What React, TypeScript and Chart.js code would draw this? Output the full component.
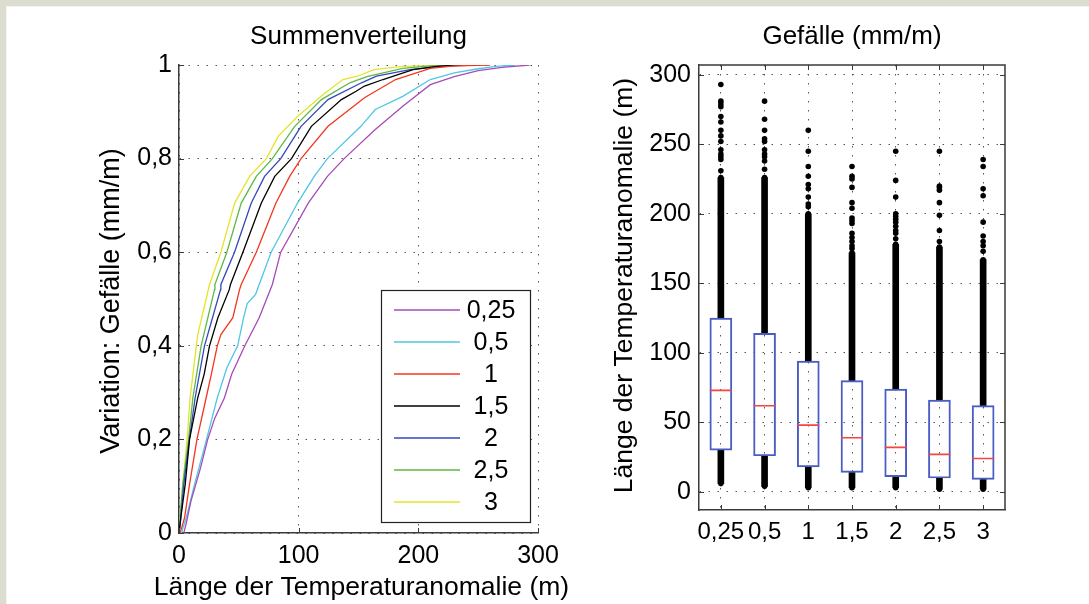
import React, { useEffect, useRef } from 'react';
import { Chart, registerables } from 'chart.js';

Chart.register(...registerables);

const FONT = '"Liberation Sans", Arial, Helvetica, sans-serif';

// Gradient classes (mm/m)
const classLabels = ['0,25', '0,5', '1', '1,5', '2', '2,5', '3'];
const classColors = ['#a64bb8', '#4ec7e4', '#f3361f', '#000000', '#3448bb', '#5cb944', '#e4e42a'];

// Cumulative distributions: [length of anomaly (m), cumulative share]
const cdf025: [number, number][] = [
  [4, 0], [6, 0.02], [10, 0.068], [18, 0.139], [24, 0.2], [30, 0.246], [38, 0.289], [44, 0.339],
  [55, 0.4], [67, 0.46], [78, 0.531], [85, 0.6], [108, 0.705], [124, 0.762], [138, 0.8],
  [164, 0.862], [187, 0.912], [210, 0.958], [230, 0.975], [250, 0.988], [270, 0.995], [293, 1],
];
const cdf05: [number, number][] = [
  [2, 0], [6, 0.032], [13, 0.104], [23, 0.2], [32, 0.289], [40, 0.353], [49, 0.4], [54, 0.46],
  [57, 0.49], [64, 0.51], [67, 0.531], [77, 0.6], [99, 0.705], [113, 0.762], [124, 0.8],
  [152, 0.869], [164, 0.905], [187, 0.933], [210, 0.969], [230, 0.983], [250, 0.992], [265, 0.997], [281, 1],
];
const cdf1: [number, number][] = [
  [1, 0], [4.6, 0.032], [8.8, 0.104], [15, 0.2], [22.7, 0.289], [27, 0.339], [32, 0.4], [35, 0.424],
  [45, 0.46], [50.6, 0.52], [52, 0.531], [64.6, 0.6], [81, 0.705], [92.5, 0.762], [102, 0.8],
  [124.5, 0.869], [155, 0.93], [181, 0.969], [210, 0.993], [230, 0.998], [260, 1],
];
const cdf15: [number, number][] = [
  [0, 0], [1.5, 0.032], [5.2, 0.104], [8.8, 0.2], [15.7, 0.289], [21, 0.339], [25.5, 0.4], [32.5, 0.46],
  [42, 0.52], [43, 0.531], [53.4, 0.6], [68.8, 0.705], [80, 0.762], [94, 0.8], [110.6, 0.869],
  [135.7, 0.926], [148, 0.944], [155, 0.955], [170.5, 0.969], [195.6, 0.99], [215, 0.997], [234, 1],
];
const cdf2: [number, number][] = [
  [0, 0], [1, 0.02], [4, 0.104], [8.7, 0.2], [13.5, 0.289], [21.3, 0.4], [28, 0.46], [34.7, 0.52],
  [35, 0.531], [46.4, 0.6], [60.4, 0.705], [71.5, 0.762], [85, 0.8], [102, 0.869], [124.5, 0.926],
  [152.5, 0.962], [165, 0.976], [193, 0.99], [220, 0.997], [245, 1],
];
const cdf25: [number, number][] = [
  [0, 0], [0.5, 0.02], [3.2, 0.104], [8, 0.2], [11.6, 0.289], [18.5, 0.4], [25, 0.47], [29.7, 0.52],
  [30, 0.531], [40, 0.6], [52, 0.705], [64.6, 0.762], [78, 0.8], [96.7, 0.869], [119, 0.926],
  [142.7, 0.962], [157, 0.975], [187, 0.993], [210, 0.998], [245, 1],
];
const cdf3: [number, number][] = [
  [0, 0], [0.5, 0.02], [3.2, 0.104], [6.8, 0.2], [9.3, 0.289], [14.5, 0.4], [15.7, 0.424], [25.5, 0.531],
  [35, 0.6], [46.5, 0.705], [59, 0.762], [73, 0.8], [83, 0.848], [99, 0.89], [122, 0.94],
  [137, 0.969], [149, 0.976], [163, 0.99], [187, 0.997], [239, 1],
];
const cdfSeries = [cdf025, cdf05, cdf1, cdf15, cdf2, cdf25, cdf3];

const cdfXTicks = [0, 100, 200, 300];
const cdfYTicks = [0, 0.2, 0.4, 0.6, 0.8, 1];

// Box plot statistics of anomaly length (m) per gradient class
const boxQ1 = [30, 26, 18, 14, 11, 10, 9];
const boxMedian = [73, 62, 48, 39, 32, 27, 24];
const boxQ3 = [125, 114, 94, 80, 74, 66, 62];
// Outliers: lowest value, densely packed upper run, and the scattered high values
const outlierLow = [6, 4, 3, 3, 3, 2, 2];
const outlierDenseTop = [226, 226, 200, 172, 178, 176, 167];
const outliers025 = [231, 239, 241, 243, 246, 252, 256, 260, 266, 270, 277, 279, 281, 293];
const outliers05 = [232, 238, 241, 243, 246, 252, 254, 260, 268, 281];
const outliers1 = [205, 207, 212, 218, 221, 227, 234, 245, 260];
const outliers15 = [175, 177, 180, 183, 186, 193, 195, 197, 204, 208, 219, 225, 227, 234];
const outliers2 = [182, 186, 188, 191, 194, 196, 198, 200, 212, 224, 245];
const outliers25 = [180, 188, 199, 208, 217, 219, 220, 245];
const outliers3 = [173, 177, 180, 184, 194, 213, 218, 234, 239];
const outlierSets = [outliers025, outliers05, outliers1, outliers15, outliers2, outliers25, outliers3];

const boxYTicks = [0, 50, 100, 150, 200, 250, 300];

const GRID = '#555555';
const AXIS = '#3a3a3a';
const DOTS = [1.5, 7.5];
const TICK_SIZE = 25;

const decimalComma = (v: number) => String(Math.round(v * 100) / 100).replace('.', ',');

// Titles and axis titles of a panel
const panelText = {
  id: 'panelText',
  afterDraw(chart: any, _args: any, opts: any) {
    const { ctx, chartArea: a } = chart;
    ctx.save();
    ctx.fillStyle = '#000';
    ctx.textBaseline = 'alphabetic';
    ctx.textAlign = 'center';
    const cx = (a.left + a.right) / 2;
    ctx.font = `${opts.titleSize}px ${FONT}`;
    ctx.fillText(opts.title, cx + (opts.titleShift || 0), opts.titleBaseline);
    if (opts.xTitle) {
      ctx.font = `${opts.axisSize}px ${FONT}`;
      ctx.fillText(opts.xTitle, cx + (opts.xTitleShift || 0), opts.xTitleBaseline);
    }
    if (opts.yTitle) {
      ctx.font = `${opts.yAxisSize || opts.axisSize}px ${FONT}`;
      ctx.translate(a.left + opts.yTitleOffset, (a.top + a.bottom) / 2 + (opts.yTitleShift || 0));
      ctx.rotate(-Math.PI / 2);
      ctx.fillText(opts.yTitle, 0, 0);
    }
    ctx.restore();
  },
};

// Short tick marks pointing into the plot area
const innerTicks = {
  id: 'innerTicks',
  afterDatasetsDraw(chart: any, _args: any, opts: any) {
    const { ctx, chartArea: a, scales } = chart;
    const len = 5;
    ctx.save();
    ctx.strokeStyle = AXIS;
    ctx.lineWidth = 1;
    ctx.beginPath();
    for (const t of scales.y.ticks) {
      const y = Math.round(scales.y.getPixelForValue(t.value)) + 0.5;
      ctx.moveTo(a.left, y);
      ctx.lineTo(a.left + len, y);
      if (opts.box) {
        ctx.moveTo(a.right, y);
        ctx.lineTo(a.right - len, y);
      }
    }
    scales.x.ticks.forEach((t: any, i: number) => {
      const v = scales.x.type === 'category' ? i : t.value;
      const x = Math.round(scales.x.getPixelForValue(v)) + 0.5;
      ctx.moveTo(x, a.bottom);
      ctx.lineTo(x, a.bottom - len);
      if (opts.box) {
        ctx.moveTo(x, a.top);
        ctx.lineTo(x, a.top + len);
      }
    });
    ctx.stroke();
    if (opts.box) {
      ctx.strokeStyle = AXIS;
      ctx.lineWidth = 1.5;
      ctx.beginPath();
      ctx.moveTo(a.left, a.top);
      ctx.lineTo(a.right, a.top);
      ctx.lineTo(a.right, a.bottom);
      ctx.stroke();
    }
    ctx.restore();
  },
};

// Boxed legend with centred labels
const boxedLegend = {
  id: 'boxedLegend',
  afterDraw(chart: any, _args: any, opts: any) {
    const { ctx } = chart;
    const { left, top, width, height, rowStart, rowGap, lineFrom, lineTo, textX, size } = opts;
    ctx.save();
    ctx.fillStyle = '#fff';
    ctx.fillRect(left, top, width, height);
    ctx.strokeStyle = '#222';
    ctx.lineWidth = 1.2;
    ctx.strokeRect(left + 0.5, top + 0.5, width, height);
    ctx.font = `${size}px ${FONT}`;
    ctx.textAlign = 'center';
    ctx.textBaseline = 'middle';
    chart.data.datasets.forEach((ds: any, i: number) => {
      const y = rowStart + i * rowGap;
      ctx.strokeStyle = ds.borderColor;
      ctx.lineWidth = 1.5;
      ctx.beginPath();
      ctx.moveTo(left + lineFrom, y);
      ctx.lineTo(left + lineTo, y);
      ctx.stroke();
      ctx.fillStyle = '#000';
      ctx.fillText(ds.label, left + textX, y + 1);
    });
    ctx.restore();
  },
};

function CdfChart() {
  const ref = useRef<HTMLCanvasElement>(null);
  useEffect(() => {
    const chart = new Chart(ref.current!, {
      type: 'line',
      data: {
        datasets: cdfSeries.map((pts, i) => ({
          label: classLabels[i],
          data: pts.map(([x, y]) => ({ x, y })),
          borderColor: classColors[i],
          borderWidth: 1.3,
          pointRadius: 0,
          tension: 0,
          fill: false,
        })),
      },
      options: {
        responsive: false,
        animation: false,
        events: [],
        layout: { padding: { left: 79, right: 42, top: 65, bottom: 31 } },
        scales: {
          x: {
            type: 'linear',
            min: 0,
            max: 300,
            afterBuildTicks: (s: any) => { s.ticks = cdfXTicks.map((value) => ({ value })); },
            afterFit: (s: any) => { s.height = 40; },
            grid: { color: GRID, lineWidth: 1, drawTicks: false },
            border: { display: true, color: AXIS, width: 1.5, dash: DOTS },
            ticks: { color: '#000', font: { family: FONT, size: TICK_SIZE }, padding: 8, maxRotation: 0, callback: (v: any) => String(v) },
          },
          y: {
            type: 'linear',
            min: 0,
            max: 1,
            afterBuildTicks: (s: any) => { s.ticks = cdfYTicks.map((value) => ({ value })); },
            afterFit: (s: any) => { s.width = 100; },
            grid: { color: GRID, lineWidth: 1, drawTicks: false },
            border: { display: true, color: AXIS, width: 1.5, dash: DOTS },
            ticks: { color: '#000', font: { family: FONT, size: TICK_SIZE }, padding: 7, callback: (v: any) => decimalComma(Number(v)) },
          },
        },
        plugins: {
          legend: { display: false },
          tooltip: { enabled: false },
          panelText: {
            title: 'Summenverteilung',
            titleSize: 26,
            titleBaseline: 44,
            xTitle: 'Länge der Temperaturanomalie (m)',
            xTitleBaseline: 595,
            xTitleShift: 3,
            axisSize: 26.5,
            yAxisSize: 27,
            yTitle: 'Variation: Gefälle (mm/m)',
            yTitleOffset: -60,
            yTitleShift: 2,
          },
          innerTicks: { box: false },
          boxedLegend: {
            left: 381, top: 290, width: 149, height: 232,
            rowStart: 310, rowGap: 32, lineFrom: 13, lineTo: 79, textX: 110, size: TICK_SIZE,
          },
        } as any,
      },
      plugins: [panelText, innerTicks, boxedLegend],
    });
    return () => chart.destroy();
  }, []);
  return <canvas ref={ref} width={580} height={604} style={{ position: 'absolute', left: 0, top: 0 }} />;
}

function BoxChart() {
  const ref = useRef<HTMLCanvasElement>(null);
  useEffect(() => {
    const dotPoints: { x: string; y: number }[] = [];
    classLabels.forEach((c, i) => {
      dotPoints.push({ x: c, y: outlierLow[i] }, { x: c, y: outlierDenseTop[i] });
      outlierSets[i].forEach((v) => dotPoints.push({ x: c, y: v }));
    });
    const chart = new Chart(ref.current!, {
      type: 'bar',
      data: {
        labels: classLabels,
        datasets: [
          {
            type: 'scatter',
            label: 'Median',
            data: classLabels.map((c, i) => ({ x: c, y: boxMedian[i] })),
            pointStyle: 'line',
            pointRadius: 11,
            borderColor: '#f2463e',
            borderWidth: 1.6,
            order: 0,
          } as any,
          {
            type: 'bar',
            label: 'Quartile',
            data: classLabels.map((_, i) => [boxQ1[i], boxQ3[i]]),
            backgroundColor: 'rgba(0,0,0,0)',
            borderColor: '#4a5cc4',
            borderWidth: 1.3,
            borderSkipped: false,
            barThickness: 22,
            grouped: false,
            order: 1,
          } as any,
          {
            type: 'bar',
            label: 'Ausreißer unten',
            data: classLabels.map((_, i) => [outlierLow[i], boxQ1[i]]),
            backgroundColor: '#000',
            borderWidth: 0,
            barThickness: 6,
            grouped: false,
            order: 2,
          } as any,
          {
            type: 'bar',
            label: 'Ausreißer oben',
            data: classLabels.map((_, i) => [boxQ3[i], outlierDenseTop[i]]),
            backgroundColor: '#000',
            borderWidth: 0,
            barThickness: 6,
            grouped: false,
            order: 2,
          } as any,
          {
            type: 'scatter',
            label: 'Ausreißer',
            data: dotPoints,
            pointRadius: 2.8,
            pointBackgroundColor: '#000',
            pointBorderWidth: 0,
            order: 3,
          } as any,
        ],
      },
      options: {
        responsive: false,
        animation: false,
        events: [],
        layout: { padding: { left: 19, right: 84, top: 65, bottom: 54 } },
        scales: {
          x: {
            type: 'category',
            offset: true,
            afterFit: (s: any) => { s.height = 40; },
            grid: { offset: false, color: GRID, lineWidth: 1, drawTicks: false },
            border: { display: true, color: AXIS, width: 1.5, dash: DOTS },
            ticks: { color: '#000', font: { family: FONT, size: 24 }, padding: 8, maxRotation: 0, autoSkip: false },
          },
          y: {
            type: 'linear',
            min: -13,
            max: 307,
            afterBuildTicks: (s: any) => { s.ticks = boxYTicks.map((value) => ({ value })); },
            afterFit: (s: any) => { s.width = 100; },
            grid: { color: GRID, lineWidth: 1, drawTicks: false },
            border: { display: true, color: AXIS, width: 1.5, dash: DOTS },
            ticks: { color: '#000', font: { family: FONT, size: TICK_SIZE }, padding: 8, callback: (v: any) => String(v) },
          },
        },
        plugins: {
          legend: { display: false },
          tooltip: { enabled: false },
          panelText: {
            title: 'Gefälle (mm/m)',
            titleSize: 26,
            titleBaseline: 44,
            axisSize: 26.5,
            yTitle: 'Länge der Temperaturanomalie (m)',
            yTitleOffset: -67,
            yTitleShift: -2,
          },
          innerTicks: { box: true },
        } as any,
      },
      plugins: [panelText, innerTicks],
    });
    return () => chart.destroy();
  }, []);
  return <canvas ref={ref} width={509} height={604} style={{ position: 'absolute', left: 580, top: 0 }} />;
}

export default function App() {
  return (
    <div style={{ position: 'fixed', left: 0, top: 0, width: 1089, height: 604, background: '#dddcd0', overflow: 'hidden' }}>
      <div style={{ position: 'absolute', left: 6, top: 6, right: 0, bottom: 0, background: '#f4f4ef' }} />
      <div style={{ position: 'absolute', left: 7, top: 7, right: 0, bottom: 0, background: '#ffffff' }} />
      <CdfChart />
      <BoxChart />
    </div>
  );
}
